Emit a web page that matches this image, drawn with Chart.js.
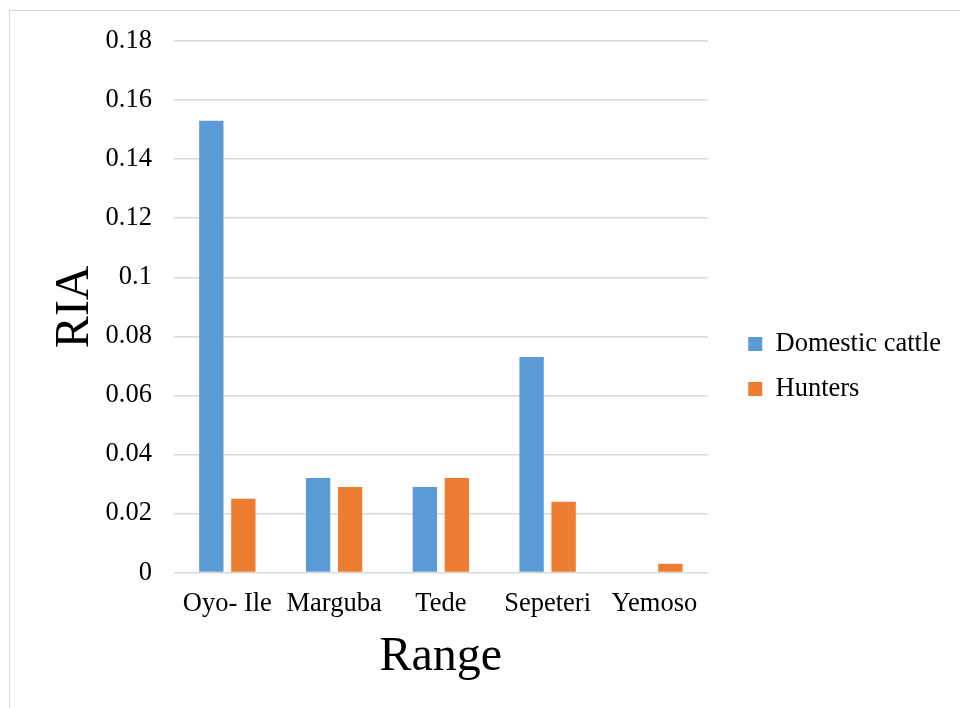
<!DOCTYPE html>
<html lang="en">
<head>
    <meta charset="UTF-8">
    <title>RIA by Range</title>
    <script src="https://cdn.jsdelivr.net/npm/chart.js"></script>
    <style>
        html, body { margin: 0; padding: 0; overflow: hidden; background: #fff; }
        .frame {
            position: absolute; left: 9px; top: 10px;
            width: 1000px; height: 760px;
            border: 1px solid #d9d9d9;
        }
        .wrap { position: absolute; left: 0; top: 0; width: 960px; height: 708px; }
    </style>
</head>
<body>
    <div class="frame"></div>
    <div class="wrap"><canvas id="chart" width="960" height="708"></canvas></div>

    <script>
        const ranges = ['Oyo- Ile', 'Marguba', 'Tede', 'Sepeteri', 'Yemoso'];
        const domesticCattle = [0.153, 0.032, 0.029, 0.073, 0];
        const hunters = [0.025, 0.029, 0.032, 0.024, 0.003];
        const seriesNames = ['Domestic cattle', 'Hunters'];

        const serif = "'Liberation Serif', 'Times New Roman', serif";

        // push the legend a bit away from the plot, like the original
        const legendGap = {
            id: 'legendGap',
            afterLayout(chart) {
                if (chart.legend) {
                    chart.legend.left += 22;
                    chart.legend.right += 22;
                    chart.legend.top += 1;
                    chart.legend.bottom += 1;
                }
            }
        };

        new Chart(document.getElementById('chart'), {
            type: 'bar',
            data: {
                labels: ranges,
                datasets: [
                    {
                        label: seriesNames[0],
                        data: domesticCattle,
                        backgroundColor: '#5b9bd5',
                        categoryPercentage: 0.6,
                        barPercentage: 0.76
                    },
                    {
                        label: seriesNames[1],
                        data: hunters,
                        backgroundColor: '#ed7d31',
                        categoryPercentage: 0.6,
                        barPercentage: 0.76
                    }
                ]
            },
            plugins: [legendGap],
            options: {
                responsive: false,
                animation: false,
                layout: { padding: { top: 41, left: 59, right: 36, bottom: 18 } },
                plugins: {
                    tooltip: { enabled: false },
                    legend: {
                        position: 'right',
                        labels: {
                            boxWidth: 14,
                            boxHeight: 14,
                            padding: 18.5,
                            color: '#000',
                            font: { family: serif, size: 26.5 }
                        }
                    }
                },
                scales: {
                    x: {
                        grid: { display: false },
                        border: { display: false },
                        ticks: { color: '#000', font: { family: serif, size: 26.5 }, padding: 8 },
                        title: {
                            display: true,
                            text: 'Range',
                            color: '#000',
                            font: { family: serif, size: 48 },
                            padding: { top: 0 }
                        }
                    },
                    y: {
                        min: 0,
                        max: 0.18,
                        grid: { color: '#d9d9d9', lineWidth: 1.5, drawTicks: false },
                        border: { display: false },
                        ticks: {
                            stepSize: 0.02,
                            color: '#000',
                            padding: 22,
                            font: { family: serif, size: 26.5 },
                            callback: v => String(Number(v.toFixed(2)))
                        },
                        title: {
                            display: true,
                            text: 'RIA',
                            color: '#000',
                            font: { family: serif, size: 48, lineHeight: 0.7 },
                            padding: { top: 0, bottom: -9 }
                        }
                    }
                }
            }
        });
    </script>
</body>
</html>
